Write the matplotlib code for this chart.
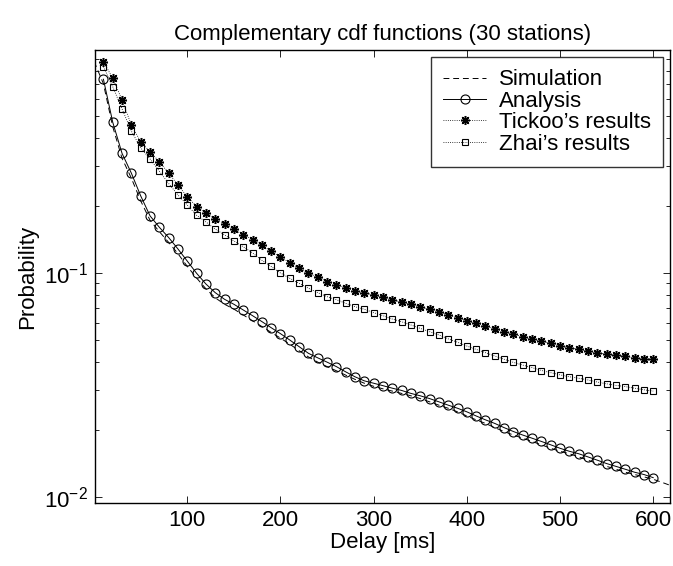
import numpy as np
import matplotlib
matplotlib.use("Agg")
import matplotlib.pyplot as plt
from matplotlib.ticker import LogLocator, NullFormatter, FixedLocator

plt.rcParams['font.family'] = ['Liberation Sans', 'DejaVu Sans']
plt.rcParams['mathtext.fontset'] = 'custom'
plt.rcParams['mathtext.rm'] = 'Liberation Sans'

# delay axis (ms)
delay = list(range(10, 610, 10))

# simulation curve (dashed)
sim_delay = list(range(0, 630, 10))
sim_prob = [0.88, 0.70, 0.45, 0.325, 0.265, 0.21, 0.172, 0.153, 0.137, 0.122,
            0.107, 0.095, 0.085, 0.0775, 0.0725, 0.069, 0.065, 0.0612, 0.0577, 0.0543,
            0.0512, 0.0481, 0.0450, 0.0422, 0.0400, 0.0382, 0.0366, 0.0350, 0.0335, 0.0322,
            0.0312, 0.0304, 0.0297, 0.0290, 0.0283, 0.0275, 0.0266, 0.0257, 0.0249, 0.0240,
            0.0230, 0.0221, 0.0213, 0.0204, 0.0196, 0.0189, 0.0183, 0.0177, 0.0171, 0.0165,
            0.0160, 0.0156, 0.0151, 0.0146, 0.0141, 0.0137, 0.0133, 0.0129, 0.0126, 0.0123,
            0.0120, 0.0116, 0.0112]

analysis = [0.733, 0.471, 0.342, 0.279, 0.221, 0.180, 0.160, 0.144, 0.128, 0.113,
            0.0997, 0.0893, 0.0817, 0.0763, 0.0725, 0.0684, 0.0645, 0.0607, 0.0570, 0.0536,
            0.0502, 0.0469, 0.0438, 0.0418, 0.0400, 0.0382, 0.0362, 0.0344, 0.0330, 0.0322,
            0.0314, 0.0306, 0.0299, 0.0290, 0.0283, 0.0275, 0.0266, 0.0257, 0.0249, 0.0240,
            0.0230, 0.0221, 0.0213, 0.0204, 0.0196, 0.0189, 0.0183, 0.0177, 0.0171, 0.0165,
            0.0160, 0.0156, 0.0151, 0.0146, 0.0141, 0.0137, 0.0133, 0.0129, 0.0126, 0.0122]

tickoo = [0.877, 0.740, 0.592, 0.458, 0.385, 0.348, 0.314, 0.279, 0.247, 0.219,
          0.198, 0.185, 0.174, 0.166, 0.157, 0.148, 0.141, 0.133, 0.125, 0.118,
          0.111, 0.105, 0.0997, 0.0957, 0.0915, 0.0887, 0.0858, 0.0834, 0.0817, 0.0798,
          0.0779, 0.0757, 0.0743, 0.0725, 0.0705, 0.0689, 0.0670, 0.0650, 0.0632, 0.0613,
          0.0596, 0.0580, 0.0563, 0.0548, 0.0534, 0.0520, 0.0508, 0.0497, 0.0485, 0.0474,
          0.0464, 0.0456, 0.0448, 0.0440, 0.0434, 0.0429, 0.0424, 0.0419, 0.0415, 0.0411]

zhai = [0.834, 0.679, 0.540, 0.430, 0.362, 0.323, 0.285, 0.251, 0.223, 0.201,
        0.181, 0.169, 0.157, 0.148, 0.139, 0.131, 0.123, 0.114, 0.107, 0.100,
        0.0947, 0.0899, 0.0855, 0.0817, 0.0784, 0.0760, 0.0732, 0.0707, 0.0689, 0.0665,
        0.0645, 0.0623, 0.0606, 0.0586, 0.0566, 0.0547, 0.0529, 0.0508, 0.0491, 0.0472,
        0.0456, 0.0441, 0.0426, 0.0412, 0.0399, 0.0388, 0.0378, 0.0367, 0.0359, 0.0351,
        0.0344, 0.0339, 0.0333, 0.0326, 0.0320, 0.0315, 0.0311, 0.0306, 0.0301, 0.0297]

fig = plt.figure(figsize=(6.73, 5.66), dpi=100)
ax = fig.add_axes([0.1412, 0.1113, 0.8543, 0.8004])

ax.plot(sim_delay, sim_prob, color='k', linestyle=(0, (6, 4)), linewidth=0.7, label='Simulation')
ax.plot(delay, analysis, color='k', linestyle='-', linewidth=0.7, marker='o',
        markersize=6.5, markerfacecolor='none', markeredgewidth=0.8, label='Analysis')
ax.plot(delay, tickoo, color='k', linestyle=':', linewidth=0.6, marker=(8, 2, 0),
        markersize=6.5, markeredgewidth=1.1, label="Tickoo\u2019s results")
ax.plot(delay, zhai, color='k', linestyle=':', linewidth=0.6, marker='s',
        markersize=5, markerfacecolor='none', markeredgewidth=0.8, label="Zhai\u2019s results")

ax.set_yscale('log')
ax.set_xlim(1, 618)
ax.set_ylim(0.0094, 0.99)
ax.xaxis.set_major_locator(FixedLocator([100, 200, 300, 400, 500, 600]))
ax.yaxis.set_major_locator(LogLocator(base=10))
ax.yaxis.set_minor_locator(LogLocator(base=10, subs=np.arange(2, 10)))
ax.yaxis.set_minor_formatter(NullFormatter())
ax.tick_params(which='both', direction='in', top=True, right=True, labelsize=16)
ax.tick_params(which='major', length=5, width=0.6, pad=5)
ax.tick_params(which='minor', length=3, width=0.6)
for s in ax.spines.values():
    s.set_linewidth(1.0)

ax.set_xlabel('Delay [ms]', fontsize=16, labelpad=1)
ax.set_ylabel('Probability', fontsize=16, labelpad=4)
ax.set_title('Complementary cdf functions (30 stations)', fontsize=16, pad=7)

leg = ax.legend(loc='upper right', fontsize=16, frameon=True, fancybox=False,
                edgecolor='k', borderaxespad=0.32, handlelength=1.95, labelspacing=0.02,
                borderpad=0.55, handletextpad=0.55)
leg.get_frame().set_linewidth(1.0)

fig.savefig('out.png', dpi=100)
